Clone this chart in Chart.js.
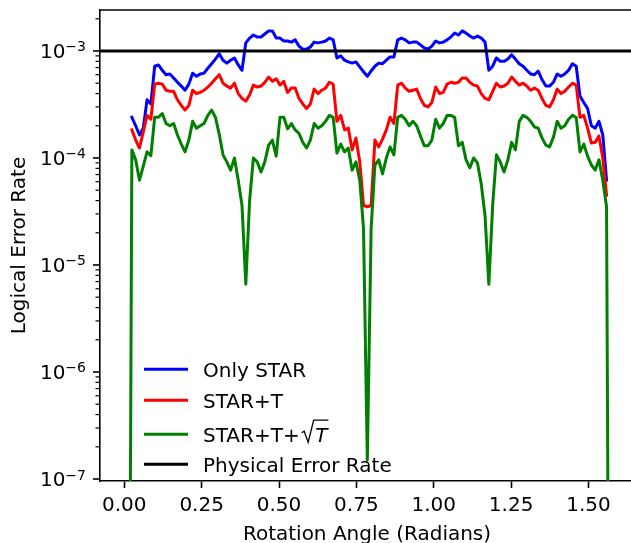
<!DOCTYPE html>
<html>
<head>
<meta charset="utf-8">
<script src="https://cdn.jsdelivr.net/npm/chart.js@4.4.1/dist/chart.umd.min.js"></script>
<style>
  html, body { margin: 0; padding: 0; background: #fff; }
  canvas { display: block; }
</style>
</head>
<body>
<canvas id="errChart" width="631" height="543"></canvas>
<script>
// rotation angles (radians), grid of pi/256
var angles = [
  0.0123, 0.0245, 0.0368, 0.0491, 0.0614, 0.0736, 0.0859, 0.0982, 0.1104, 0.1227,
  0.1350, 0.1473, 0.1595, 0.1718, 0.1841, 0.1963, 0.2086, 0.2209, 0.2332, 0.2454,
  0.2577, 0.2700, 0.2823, 0.2945, 0.3068, 0.3191, 0.3313, 0.3436, 0.3559, 0.3682,
  0.3804, 0.3927, 0.4050, 0.4172, 0.4295, 0.4418, 0.4541, 0.4663, 0.4786, 0.4909,
  0.5031, 0.5154, 0.5277, 0.5400, 0.5522, 0.5645, 0.5768, 0.5890, 0.6013, 0.6136,
  0.6259, 0.6381, 0.6504, 0.6627, 0.6750, 0.6872, 0.6995, 0.7118, 0.7240, 0.7363,
  0.7486, 0.7609, 0.7731, 0.7854, 0.7977, 0.8099, 0.8222, 0.8345, 0.8468, 0.8590,
  0.8713, 0.8836, 0.8958, 0.9081, 0.9204, 0.9327, 0.9449, 0.9572, 0.9695, 0.9817,
  0.9940, 1.0063, 1.0186, 1.0308, 1.0431, 1.0554, 1.0677, 1.0799, 1.0922, 1.1045,
  1.1167, 1.1290, 1.1413, 1.1536, 1.1658, 1.1781, 1.1904, 1.2026, 1.2149, 1.2272,
  1.2395, 1.2517, 1.2640, 1.2763, 1.2885, 1.3008, 1.3131, 1.3254, 1.3376, 1.3499,
  1.3622, 1.3744, 1.3867, 1.3990, 1.4113, 1.4235, 1.4358, 1.4481, 1.4604, 1.4726,
  1.4849, 1.4972, 1.5094, 1.5217, 1.5340, 1.5463, 1.5585, 1.5708
];

var onlyStar = [
  null, 2.4e-4, 2.0e-4, 1.64e-4, 1.9e-4, 3.5e-4, 3.2e-4, 7.2e-4, 7.4e-4, 6.6e-4,
  6.0e-4, 6.1e-4, 5.6e-4, 5.1e-4, 4.7e-4, 4.3e-4, 4.9e-4, 6.2e-4, 5.8e-4, 6.1e-4,
  6.2e-4, 6.9e-4, 7.6e-4, 8.4e-4, 9.4e-4, 8.2e-4, 7.7e-4, 8.2e-4, 8.6e-4, 7.4e-4,
  6.6e-4, 1.19e-3, 1.32e-3, 1.41e-3, 1.35e-3, 1.35e-3, 1.44e-3, 1.54e-3, 1.54e-3, 1.32e-3,
  1.32e-3, 1.24e-3, 1.24e-3, 1.21e-3, 1.27e-3, 1.11e-3, 1.04e-3, 1.04e-3, 1.09e-3, 1.21e-3,
  1.19e-3, 1.21e-3, 1.24e-3, 1.32e-3, 1.27e-3, 8.6e-4, 9.0e-4, 8.2e-4, 7.9e-4, 7.7e-4,
  7.9e-4, 7.1e-4, 6.4e-4, 5.8e-4, 6.5e-4, 7.2e-4, 7.7e-4, 7.6e-4, 8.2e-4, 8.8e-4,
  8.8e-4, 1.27e-3, 1.32e-3, 1.27e-3, 1.19e-3, 1.21e-3, 1.21e-3, 1.14e-3, 1.07e-3, 1.04e-3,
  1.11e-3, 1.24e-3, 1.19e-3, 1.21e-3, 1.27e-3, 1.35e-3, 1.47e-3, 1.41e-3, 1.54e-3, 1.47e-3,
  1.38e-3, 1.32e-3, 1.38e-3, 1.32e-3, 1.21e-3, 6.6e-4, 7.2e-4, 8.6e-4, 8.0e-4, 8.0e-4,
  8.4e-4, 9.2e-4, 8.4e-4, 7.6e-4, 7.2e-4, 6.6e-4, 6.1e-4, 6.0e-4, 6.5e-4, 5.4e-4,
  4.7e-4, 4.7e-4, 5.1e-4, 6.1e-4, 5.8e-4, 6.1e-4, 6.6e-4, 7.6e-4, 7.2e-4, 3.8e-4,
  3.3e-4, 2.9e-4, 2.0e-4, 1.9e-4, 2.2e-4, 1.64e-4, 6.2e-5, null
];

var starT = [
  null, 1.83e-4, 1.47e-4, 1.24e-4, 1.75e-4, 2.5e-4, 2.3e-4, 4.9e-4, 5.0e-4, 4.9e-4,
  4.3e-4, 4.2e-4, 4.2e-4, 3.5e-4, 3.1e-4, 2.8e-4, 3.1e-4, 4.3e-4, 4.0e-4, 4.1e-4,
  4.3e-4, 4.6e-4, 5.0e-4, 5.5e-4, 6.0e-4, 5.0e-4, 4.7e-4, 4.5e-4, 5.0e-4, 4.0e-4,
  3.6e-4, 3.4e-4, 3.9e-4, 4.8e-4, 4.6e-4, 4.7e-4, 5.1e-4, 5.7e-4, 5.2e-4, 5.5e-4,
  4.8e-4, 5.2e-4, 4.1e-4, 4.5e-4, 4.5e-4, 3.6e-4, 3.2e-4, 2.9e-4, 3.2e-4, 4.4e-4,
  4.0e-4, 4.3e-4, 4.5e-4, 5.1e-4, 4.9e-4, 2.2e-4, 2.5e-4, 1.83e-4, 1.9e-4, 1.19e-4,
  1.54e-4, 9.2e-5, 3.6e-5, 3.5e-5, 3.6e-5, 1.47e-4, 1.27e-4, 1.5e-4, 1.83e-4, 2.4e-4,
  2.1e-4, 4.8e-4, 5.0e-4, 4.5e-4, 4.2e-4, 4.3e-4, 4.4e-4, 3.6e-4, 3.1e-4, 3.0e-4,
  3.3e-4, 4.6e-4, 4.0e-4, 4.1e-4, 4.9e-4, 5.1e-4, 5.0e-4, 5.1e-4, 5.6e-4, 5.6e-4,
  5.1e-4, 4.8e-4, 4.7e-4, 4.0e-4, 3.6e-4, 3.5e-4, 4.2e-4, 5.0e-4, 4.6e-4, 4.7e-4,
  5.0e-4, 5.7e-4, 5.2e-4, 4.8e-4, 5.0e-4, 4.7e-4, 4.3e-4, 4.5e-4, 4.3e-4, 3.6e-4,
  3.1e-4, 3.0e-4, 3.5e-4, 4.4e-4, 4.0e-4, 4.2e-4, 4.6e-4, 5.0e-4, 4.8e-4, 2.4e-4,
  2.5e-4, 1.9e-4, 1.38e-4, 1.4e-4, 1.6e-4, 1.0e-4, 4.5e-5, null
];

// 1e-12 = effectively zero, falls below the axis
var starTSqrtT = [
  1e-12, 1.19e-4, 9.6e-5, 6.2e-5, 8.4e-5, 1.14e-4, 1.05e-4, 2.4e-4, 2.4e-4, 2.6e-4,
  2.1e-4, 2.0e-4, 2.1e-4, 1.64e-4, 1.35e-4, 1.14e-4, 1.47e-4, 2.2e-4, 1.9e-4, 2.0e-4,
  2.1e-4, 2.5e-4, 2.8e-4, 2.4e-4, 1.67e-4, 1.07e-4, 9.2e-5, 7.7e-5, 1.0e-4, 6.2e-5,
  3.6e-5, 6.6e-6, 4.0e-5, 1.0e-4, 9.2e-5, 7.4e-5, 9.2e-5, 1.32e-4, 1.47e-4, 1.04e-4,
  2.4e-4, 2.4e-4, 1.87e-4, 2.1e-4, 1.83e-4, 1.7e-4, 1.4e-4, 1.24e-4, 1.47e-4, 2.1e-4,
  1.9e-4, 2.0e-4, 2.2e-4, 2.5e-4, 2.4e-4, 1.11e-4, 1.35e-4, 1.14e-4, 1.24e-4, 7.7e-5,
  9.2e-5, 6.2e-5, 2.2e-5, 1.5e-7, 2.2e-5, 8.6e-5, 9.6e-5, 7.1e-5, 1.0e-4, 1.27e-4,
  1.07e-4, 2.4e-4, 2.5e-4, 2.3e-4, 2.0e-4, 2.2e-4, 2.0e-4, 1.6e-4, 1.3e-4, 1.3e-4,
  1.47e-4, 2.3e-4, 1.9e-4, 2.1e-4, 2.5e-4, 2.5e-4, 2.4e-4, 1.3e-4, 1.4e-4, 9.6e-5,
  8.1e-5, 1.0e-4, 9.0e-5, 5.7e-5, 2.9e-5, 6.6e-6, 3.6e-5, 1.07e-4, 9.2e-5, 7.4e-5,
  9.6e-5, 1.4e-4, 1.19e-4, 2.2e-4, 2.5e-4, 2.4e-4, 2.2e-4, 1.95e-4, 1.9e-4, 1.54e-4,
  1.32e-4, 1.27e-4, 1.56e-4, 2.2e-4, 1.9e-4, 2.0e-4, 2.3e-4, 2.5e-4, 2.4e-4, 1.14e-4,
  1.35e-4, 1.04e-4, 8.6e-5, 7.7e-5, 9.6e-5, 6.2e-5, 3.5e-5, 1e-12
];

var physicalRate = 1e-3;
var seriesLabels = ['Only STAR', 'STAR+T', 'STAR+T+\u221AT', 'Physical Error Rate'];
var seriesColors = ['#0000ff', '#ff0000', '#008000', '#000000'];
var xTickValues = [0, 0.25, 0.5, 0.75, 1.0, 1.25, 1.5];
var yMajorTicks = [1e-7, 1e-6, 1e-5, 1e-4, 1e-3];

// axis limits
var xMin = -0.0785, xMax = 1.6375;
var yMin = 9.58e-8, yMax = 2.415e-3;

var FONT = "'DejaVu Sans'";

function toPoints(ys) {
  return angles.map(function (a, i) { return { x: a, y: ys[i] }; });
}

function drawLegendLabel(ctx, text, x, baseline) {
  var parts = text.split('\u221A');
  ctx.font = '20px ' + FONT;
  ctx.fillText(parts[0], x, baseline);
  if (parts.length < 2) return;
  var sx = x + ctx.measureText(parts[0]).width + 2;
  ctx.font = 'italic 20px ' + FONT;
  var tx = sx + 13.5;
  var tw = ctx.measureText(parts[1]).width;
  var top = baseline - 21.5;
  ctx.lineWidth = 1.3;
  ctx.lineJoin = 'miter';
  ctx.beginPath();
  ctx.moveTo(sx, baseline - 9);
  ctx.lineTo(sx + 2.5, baseline - 10.5);
  ctx.lineTo(sx + 6.5, baseline + 0.5);
  ctx.lineTo(sx + 12, top);
  ctx.lineTo(tx + tw + 1, top);
  ctx.stroke();
  ctx.fillText(parts[1], tx, baseline);
}

var mplAxes = {
  id: 'mplAxes',
  afterDraw: function (chart) {
    var ctx = chart.ctx;
    var area = chart.chartArea;
    var y = chart.scales.y;
    ctx.save();
    ctx.strokeStyle = '#000';
    ctx.fillStyle = '#000';

    // top spine
    ctx.lineWidth = 1.6;
    ctx.beginPath();
    ctx.moveTo(area.left - 0.8, area.top);
    ctx.lineTo(area.right, area.top);
    ctx.stroke();

    // minor y ticks
    ctx.lineWidth = 1.2;
    for (var d = -8; d <= -3; d++) {
      for (var m = 2; m <= 9; m++) {
        var v = m * Math.pow(10, d);
        if (v < y.min || v > y.max) continue;
        var py = y.getPixelForValue(v);
        ctx.beginPath();
        ctx.moveTo(area.left, py);
        ctx.lineTo(area.left - 4.5, py);
        ctx.stroke();
      }
    }

    // major y ticks + 10^n labels
    yMajorTicks.forEach(function (val) {
      var py = y.getPixelForValue(val);
      ctx.lineWidth = 1.6;
      ctx.beginPath();
      ctx.moveTo(area.left, py);
      ctx.lineTo(area.left - 7, py);
      ctx.stroke();

      var exp = '\u2212' + Math.round(-Math.log10(val));
      ctx.textAlign = 'left';
      ctx.textBaseline = 'alphabetic';
      ctx.font = '14px ' + FONT;
      var ew = ctx.measureText(exp).width;
      ctx.font = '20px ' + FONT;
      var bw = ctx.measureText('10').width;
      var right = area.left - 14;
      ctx.fillText('10', right - ew - bw, py + 7.3);
      ctx.font = '14px ' + FONT;
      ctx.fillText(exp, right - ew, py + 0.5);
    });

    // axis titles
    ctx.font = '20px ' + FONT;
    ctx.textAlign = 'center';
    ctx.textBaseline = 'alphabetic';
    ctx.fillText('Rotation Angle (Radians)', 367, 539.5);
    ctx.save();
    ctx.translate(25, (area.top + area.bottom) / 2);
    ctx.rotate(-Math.PI / 2);
    ctx.fillText('Logical Error Rate', 0, 0);
    ctx.restore();

    // legend
    var rows = [369.3, 400.3, 434.2, 464.3];
    ctx.textAlign = 'left';
    seriesLabels.forEach(function (label, i) {
      ctx.strokeStyle = seriesColors[i];
      ctx.lineWidth = 3;
      ctx.lineCap = 'butt';
      ctx.beginPath();
      ctx.moveTo(144, rows[i]);
      ctx.lineTo(188, rows[i]);
      ctx.stroke();
      ctx.strokeStyle = '#000';
      ctx.fillStyle = '#000';
      drawLegendLabel(ctx, label, 203, rows[i] + 7.5);
    });
    ctx.restore();
  }
};

function lineSet(label, data, color, order) {
  return {
    label: label,
    data: data,
    borderColor: color,
    backgroundColor: color,
    borderWidth: 3,
    pointRadius: 0,
    fill: false,
    tension: 0,
    spanGaps: false,
    borderJoinStyle: 'round',
    borderCapStyle: 'square',
    clip: 0,
    order: order
  };
}

var ctx = document.getElementById('errChart').getContext('2d');
new Chart(ctx, {
  type: 'line',
  data: {
    datasets: [
      lineSet(seriesLabels[0], toPoints(onlyStar), seriesColors[0], 3),
      lineSet(seriesLabels[1], toPoints(starT), seriesColors[1], 2),
      lineSet(seriesLabels[2], toPoints(starTSqrtT), seriesColors[2], 1),
      lineSet(seriesLabels[3], [{ x: xMin, y: physicalRate }, { x: xMax, y: physicalRate }], seriesColors[3], 0)
    ]
  },
  options: {
    responsive: false,
    devicePixelRatio: 1,
    animation: false,
    events: [],
    layout: { padding: { top: 10, right: 0, bottom: 0, left: 0 } },
    plugins: {
      legend: { display: false },
      tooltip: { enabled: false },
      title: { display: false }
    },
    scales: {
      x: {
        type: 'linear',
        min: xMin,
        max: xMax,
        bounds: 'data',
        afterBuildTicks: function (s) {
          s.ticks = xTickValues.map(function (v) { return { value: v }; });
        },
        afterFit: function (s) { s.height = 62; s.paddingLeft = 0; s.paddingRight = 0; },
        grid: { display: true, drawOnChartArea: false, drawTicks: true, tickLength: 7, tickWidth: 1.6, tickColor: '#000' },
        border: { display: true, color: '#000', width: 1.6 },
        ticks: {
          autoSkip: false,
          maxRotation: 0,
          padding: 6,
          color: '#000',
          font: { family: 'DejaVu Sans', size: 20 },
          callback: function (v) { return Number(v).toFixed(2); }
        }
      },
      y: {
        type: 'logarithmic',
        min: yMin,
        max: yMax,
        bounds: 'data',
        afterFit: function (s) { s.width = 100; },
        grid: { display: false },
        border: { display: true, color: '#000', width: 1.6 },
        ticks: { display: false }
      }
    }
  },
  plugins: [mplAxes]
});
</script>
</body>
</html>
